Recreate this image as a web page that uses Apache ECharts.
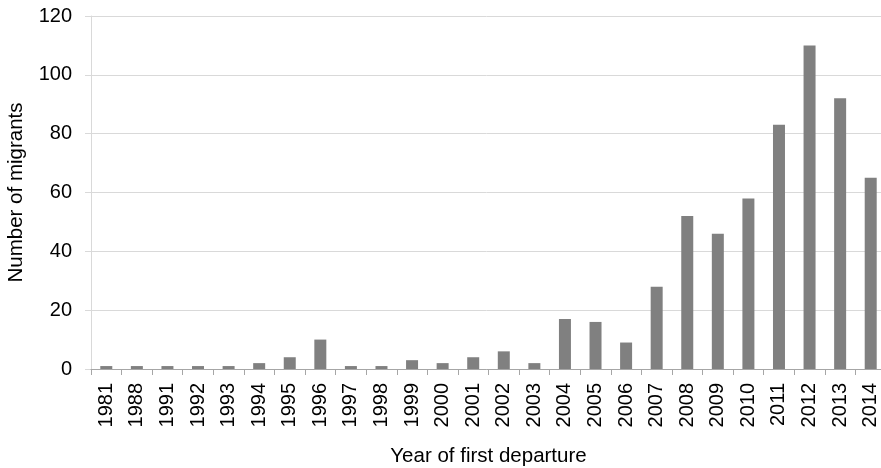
<!DOCTYPE html>
<html><head><meta charset="utf-8">
<script src="https://cdn.jsdelivr.net/npm/echarts@6/dist/echarts.min.js"></script>
<style>html,body{margin:0;padding:0;background:#fff}#c{width:881px;height:468px}</style>
</head><body><div id="c"></div>
<script>
var years = ['1981','1988','1991','1992','1993','1994','1995','1996','1997','1998','1999','2000','2001','2002','2003','2004','2005','2006','2007','2008','2009','2010','2011','2012','2013','2014'];
var migrants = [1,1,1,1,1,2,4,10,1,1,3,2,4,6,2,17,16,9,28,52,46,58,83,110,92,65];
var yTicks = [0,20,40,60,80,100,120];

var chart = echarts.init(document.getElementById('c'));
chart.setOption({
  animation: false,
  grid: {left: 91, right: -5, top: 16, bottom: 99, containLabel: false, outerBoundsMode: 'none'},
  xAxis: {
    type: 'category', data: years,
    name: 'Year of first departure', nameLocation: 'middle', nameGap: 77,
    nameTextStyle: {fontFamily: 'Liberation Sans', fontSize: 20.5, color: '#000'},
    axisLine: {lineStyle: {color: '#a6a6a6', width: 1}},
    axisTick: {show: true, length: 6, lineStyle: {color: '#a6a6a6'}},
    axisLabel: {rotate: 90, fontFamily: 'Liberation Sans', fontSize: 20, color: '#000', margin: 14},
    z: 3
  },
  yAxis: {
    type: 'value', min: 0, max: 120, interval: 20,
    name: 'Number of migrants', nameLocation: 'middle', nameGap: 64,
    nameTextStyle: {fontFamily: 'Liberation Sans', fontSize: 20.5, color: '#000'},
    axisLine: {show: true, lineStyle: {color: '#d9d9d9'}},
    axisTick: {show: true, length: 6, lineStyle: {color: '#d9d9d9'}},
    splitLine: {lineStyle: {color: '#d9d9d9'}},
    axisLabel: {fontFamily: 'Liberation Sans', fontSize: 20, color: '#000', margin: 19,
      formatter: function(v){ return yTicks.indexOf(v) >= 0 ? String(v) : ''; }}
  },
  series: [{
    type: 'bar', data: migrants, barWidth: 12,
    itemStyle: {color: '#808080'}
  }]
});
</script></body></html>
